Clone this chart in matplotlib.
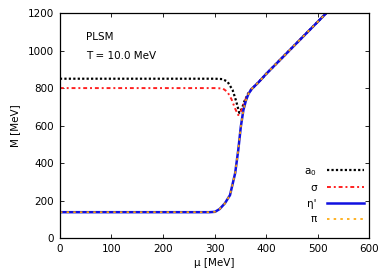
import matplotlib
matplotlib.use("Agg")
import matplotlib.pyplot as plt

# data
mu_a0 = [0, 100, 200, 300, 315, 325, 335, 342, 348, 353, 358, 365, 372, 385, 400, 450, 500, 520]
m_a0 = [850, 850, 850, 850, 848, 835, 790, 730, 668, 690, 730, 770, 795, 830, 875, 1014, 1153, 1209]

mu_sig = [0, 100, 200, 300, 316, 325, 333, 340, 346, 352, 358, 365, 372, 385, 400, 450, 500, 520]
m_sig = [800, 800, 800, 800, 798, 780, 740, 690, 656, 680, 728, 770, 795, 830, 875, 1014, 1153, 1209]

mu_pi = [0, 100, 200, 290, 301, 310, 320, 330, 340, 346, 351, 356, 361, 366, 372, 385, 400, 450, 500, 520]
m_pi = [138, 138, 138, 138, 140, 155, 185, 229, 346, 469, 594, 683, 735, 770, 795, 830, 875, 1014, 1153, 1209]

mu_eta = mu_pi
m_eta = m_pi

labels = ["a$_0$", "σ", "η'", "π"]

fig = plt.figure(figsize=(3.89, 2.73), dpi=100)
ax = fig.add_axes([0.154, 0.128, 0.795, 0.824])

ax.plot(mu_a0, m_a0, color="black", lw=1.6, linestyle=(0, (1, 1)), label=labels[0])
ax.plot(mu_sig, m_sig, color="#ff2020", lw=1.4, linestyle=(0, (2, 1.5, 1, 1.5)), label=labels[1])
ax.plot(mu_eta, m_eta, color="#1010e0", lw=1.8, linestyle="-", label=labels[2])
ax.plot(mu_pi, m_pi, color="#ffa500", lw=1.2, linestyle=(0, (1.5, 2.5)), label=labels[3])

ax.set_xlim(0, 600)
ax.set_ylim(0, 1200)
ax.set_xticks(range(0, 601, 100))
ax.set_yticks(range(0, 1201, 200))
ax.tick_params(direction="in", top=True, right=True, labelsize=7.5, length=3, width=0.6,
               pad=4)
for s in ax.spines.values():
    s.set_linewidth(0.9)
ax.set_xlabel("μ [MeV]", fontsize=7.5, labelpad=3)
ax.set_ylabel("M [MeV]", fontsize=7.5, labelpad=6)

ax.text(0.085, 0.895, "PLSM", transform=ax.transAxes, fontsize=7.5, va="center")
ax.text(0.085, 0.81, "T = 10.0 MeV", transform=ax.transAxes, fontsize=7.5, va="center")

leg = ax.legend(loc="lower right", frameon=False, markerfirst=False, fontsize=7.5,
                handlelength=3.6, handletextpad=1.0, labelspacing=0.53,
                bbox_to_anchor=(1.015, 0.02))

fig.savefig("out.png", dpi=100)
